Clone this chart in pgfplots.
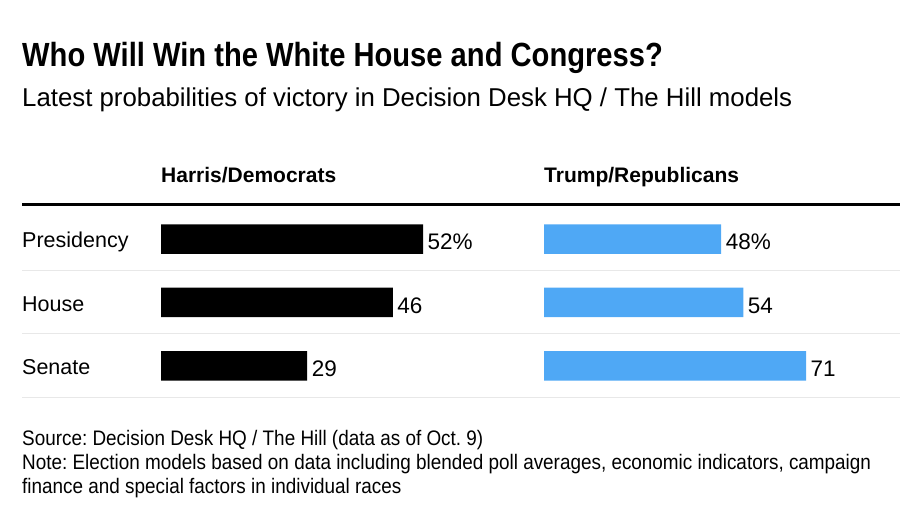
\documentclass[border=0pt]{standalone}
\usepackage{pgfplots}
\pgfplotsset{compat=1.18}
\usepackage{fontspec}
\setmainfont{Liberation Sans}
\newfontfamily\titlefont[FakeStretch=0.87]{Liberation Sans}
\newfontfamily\notefont[FakeStretch=0.9]{Liberation Sans}
\frenchspacing

\definecolor{repblue}{RGB}{79,168,245}
\definecolor{sepgray}{RGB}{232,232,232}

% row centres sit at 0,1,2 (top to bottom); each panel scaled to its own max
\pgfplotsset{
  panel/.style={
    xbar, hide axis, clip=false,
    scale only axis, width=262pt, height=190pt,
    xmin=0, ymin=-0.5, ymax=2.5, y dir=reverse,
    bar width=29.5pt,
    point meta=explicit symbolic,
    nodes near coords,
    every node near coord/.append style={
      font=\fontsize{22.5}{24}\selectfont, text=black,
      inner sep=0pt, xshift=4.5pt, yshift=-3pt, anchor=west},
  }
}

\begin{document}
\begin{tikzpicture}
\useasboundingbox (0,0) rectangle (900pt,510pt);

% title block
\node[anchor=base west, inner sep=0] at (22pt,443.5pt)
  {\titlefont\bfseries\fontsize{33.5}{36}\selectfont Who Will Win the White House and Congress?};
\node[anchor=base west, inner sep=0] at (22pt,403pt)
  {\fontsize{25.8}{28}\selectfont Latest probabilities of victory in Decision Desk HQ / The Hill models};

% column headers
\node[anchor=base west, inner sep=0] at (161pt,327.7pt)
  {\bfseries\fontsize{21}{24}\selectfont Harris/Democrats};
\node[anchor=base west, inner sep=0] at (544pt,327.7pt)
  {\bfseries\fontsize{21}{24}\selectfont Trump/Republicans};

% rules
\draw[line width=3pt] (22pt,305pt) -- (900pt,305pt);
\foreach \yy in {239.5,176,112.5}
  \draw[sepgray, line width=1pt] (22pt,\yy pt) -- (900pt,\yy pt);

% row labels
\foreach \lab/\yy in {Presidency/262.3, House/198.8, Senate/135.3}
  \node[anchor=base west, inner sep=0] at (22pt,\yy pt)
    {\fontsize{21.5}{24}\selectfont \lab};

% Harris / Democrats
\begin{axis}[panel, at={(161pt,112.5pt)}, anchor=south west, xmax=52]
  \addplot[fill=black, draw=none] coordinates {(52,0) [52\%] (46,1) [46] (29,2) [29]};
\end{axis}

% Trump / Republicans
\begin{axis}[panel, at={(544pt,112.5pt)}, anchor=south west, xmax=71]
  \addplot[fill=repblue, draw=none] coordinates {(48,0) [48\%] (54,1) [54] (71,2) [71]};
\end{axis}

% footer
\node[anchor=base west, inner sep=0, font=\notefont\fontsize{21}{24}\selectfont] at (22pt,64.5pt)
  {Source: Decision Desk HQ / The Hill (data as of Oct. 9)};
\node[anchor=base west, inner sep=0, font=\notefont\fontsize{21}{24}\selectfont] at (22pt,40.5pt)
  {Note: Election models based on data including blended poll averages, economic indicators, campaign};
\node[anchor=base west, inner sep=0, font=\notefont\fontsize{21}{24}\selectfont] at (22pt,16.5pt)
  {finance and special factors in individual races};
\end{tikzpicture}
\end{document}
